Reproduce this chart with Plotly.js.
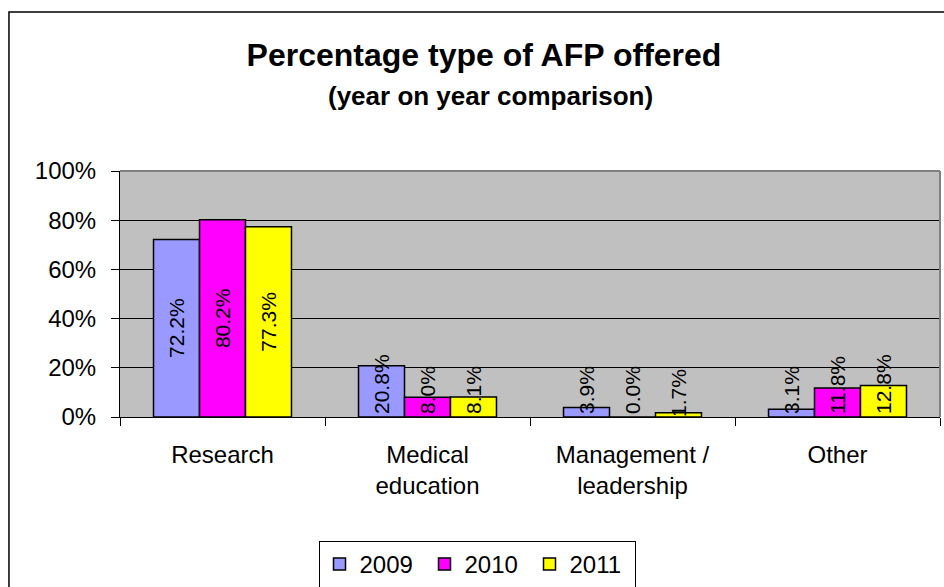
<!DOCTYPE html>
<html>
<head>
<meta charset="utf-8">
<script src="https://cdn.plot.ly/plotly-3.0.1.min.js"></script>
<style>html,body{margin:0;padding:0;background:#fff;}#chart{width:944px;height:587px;}</style>
</head>
<body>
<div id="chart"></div>
<script>
// ---- data ----
const categories = ["Research", "Medical<br>education", "Management /<br>leadership", "Other"];
const seriesNames = ["2009", "2010", "2011"];
const values2009 = [72.2, 20.8, 3.9, 3.1];
const values2010 = [80.2, 8.0, 0.0, 11.8];
const values2011 = [77.3, 8.1, 1.7, 12.8];
const yTicks = [0, 20, 40, 60, 80, 100];
const yTickLabels = ["0%", "20%", "40%", "60%", "80%", "100%"];
const titleText = "Percentage type of AFP offered";
const subtitleText = "(year on year comparison)";
// ---- styles ----
const colors = ["#9999FF", "#FF00FF", "#FFFF00"];
const FONT = "Arial, 'Liberation Sans', sans-serif";
const allValues = [values2009, values2010, values2011];
const fmt = v => v.toFixed(1) + "%";
const FIT = 30; // labels fit centred inside bars taller than this

const traces = [];
allValues.forEach((vals, i) => {
  traces.push({
    type: "bar", x: categories, y: vals, name: seriesNames[i],
    marker: {color: colors[i], line: {color: "#000", width: 1.5}},
    text: vals.map(v => v >= FIT ? fmt(v) : ""),
    textposition: "inside", insidetextanchor: "middle", textangle: -90,
    constraintext: "none",
    textfont: {family: FONT, size: 21, color: "#000"},
    hoverinfo: "skip"
  });
});
allValues.forEach((vals, i) => {
  traces.push({
    type: "bar", x: categories, y: vals, xaxis: "x2", yaxis: "y",
    showlegend: false,
    marker: {color: "rgba(0,0,0,0)", line: {width: 0}},
    text: vals.map(v => v < FIT ? fmt(v) : ""),
    textposition: vals.map(v => v === 0 ? "outside" : "inside"),
    insidetextanchor: "start", textangle: -90, constraintext: "none",
    textfont: {family: FONT, size: 21, color: "#000"},
    hoverinfo: "skip"
  });
});

const layout = {
  width: 944, height: 587,
  margin: {l: 120, r: 4, t: 171, b: 170},
  paper_bgcolor: "#fff", plot_bgcolor: "#C0C0C0",
  font: {family: FONT, color: "#000", size: 24},
  barmode: "group", bargap: 0.327, bargroupgap: 0,
  title: {
    text: titleText,
    font: {family: FONT, size: 32, weight: 700, color: "#000"},
    x: 0.5127, xanchor: "center", y: 0.9063, yanchor: "middle"
  },
  annotations: [{
    text: subtitleText, xref: "paper", yref: "paper", x: 0.4524, y: 1.3049,
    xanchor: "center", yanchor: "middle", showarrow: false,
    font: {family: FONT, size: 26, weight: 700, color: "#000"}
  }],
  xaxis: {
    type: "category", tickson: "boundaries", ticks: "outside", ticklen: 8,
    tickcolor: "#000", tickwidth: 1, showline: true, linecolor: "#000", linewidth: 1,
    showgrid: false, tickfont: {family: FONT, size: 24, color: "#000"},
    ticklabelstandoff: 16
  },
  xaxis2: {
    type: "category", overlaying: "x", matches: "x", anchor: "y",
    visible: false, showgrid: false
  },
  yaxis: {
    range: [0, 100], tickvals: yTicks, ticktext: yTickLabels,
    ticks: "outside", ticklen: 8, tickcolor: "#000", tickwidth: 1,
    showline: true, linecolor: "#000", linewidth: 1,
    showgrid: true, gridcolor: "#000", gridwidth: 1, zeroline: false,
    tickfont: {family: FONT, size: 24, color: "#000"},
    ticklabelstandoff: 10
  },
  showlegend: true,
  legend: {
    orientation: "h", x: 0.5053, xref: "container", xanchor: "center",
    y: 0.0784, yref: "container", yanchor: "top",
    bgcolor: "#fff", bordercolor: "#000", borderwidth: 1,
    font: {family: FONT, size: 24, color: "#000"}, itemwidth: 30, entrywidth: 60
  },
  shapes: [
    {type: "rect", xref: "paper", yref: "paper", x0: -0.1354, x1: 1.2, y0: -1.2, y1: 1.6463,
     line: {color: "#000", width: 1.5}, layer: "above"},
    {type: "line", xref: "paper", yref: "paper", x0: 0, x1: 1, y0: 1, y1: 1,
     line: {color: "#808080", width: 2}, layer: "above"},
    {type: "line", xref: "paper", yref: "paper", x0: 1, x1: 1, y0: 0, y1: 1,
     line: {color: "#808080", width: 2}, layer: "above"}
  ]
};

Plotly.newPlot("chart", traces, layout, {displayModeBar: false, staticPlot: true});
</script>
</body>
</html>
